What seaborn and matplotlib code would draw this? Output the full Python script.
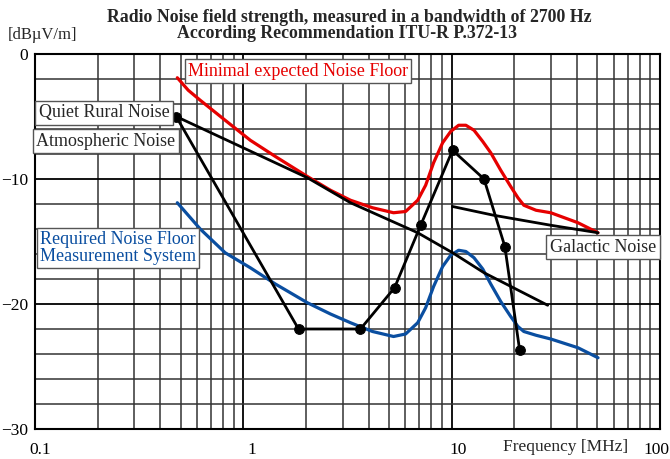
import matplotlib
matplotlib.use("Agg")
import matplotlib.pyplot as plt
import matplotlib.transforms as mtransforms
from matplotlib.ticker import LogLocator, MultipleLocator, FixedLocator, NullFormatter
import seaborn as sns

# Minimal expected noise floor (red)
red_f = [0.482, 0.544, 0.621, 0.818, 1.08, 1.425, 2.03, 2.62, 3.27, 4.17, 5.26, 6.01, 6.87, 7.50,
         8.19, 9.05, 9.89, 10.8, 11.7, 12.8, 14.1, 15.4, 17.2, 19.2, 20.8, 22.2, 25.4, 29.9, 40.4, 50.4]
red_db = [-1.9, -2.9, -3.7, -5.3, -6.9, -8.2, -9.8, -10.9, -11.7, -12.3, -12.7, -12.6, -11.7, -10.5,
          -8.7, -7.1, -6.2, -5.7, -5.7, -6.1, -7.0, -7.9, -9.3, -10.6, -11.5, -12.1, -12.5, -12.7, -13.5, -14.3]

# Required noise floor of the measurement system (blue)
blue_f = [0.482, 0.621, 0.818, 1.08, 1.425, 2.03, 2.62, 3.27, 4.17, 5.26, 6.01, 6.87, 7.50, 8.19, 9.05,
          9.89, 10.8, 11.7, 12.8, 14.1, 15.4, 17.2, 19.2, 20.8, 22.2, 25.4, 29.9, 40.4, 50.4]
blue_db = [-11.9, -14.0, -15.9, -17.1, -18.4, -19.9, -20.8, -21.5, -22.2, -22.6, -22.4, -21.5, -20.3, -18.6, -17.0,
           -16.1, -15.7, -15.8, -16.3, -17.2, -18.4, -19.8, -21.0, -21.8, -22.2, -22.5, -22.8, -23.5, -24.3]

# Atmospheric noise (black, with markers)
atm_f = [0.476, 1.84, 3.65, 5.32, 7.10, 10.1, 14.3, 18.0, 21.2]
atm_db = [-5.0, -22.0, -22.0, -18.7, -13.7, -7.7, -10.0, -15.4, -23.7]

# Quiet rural noise (black)
rural_f = [0.476, 2.03, 3.27, 6.87, 10.1, 14.3, 28.9]
rural_db = [-5.0, -9.9, -11.9, -14.3, -15.9, -17.5, -20.1]

# Galactic noise (black)
gal_f = [10.1, 15.9, 29.9, 50.4]
gal_db = [-12.2, -12.9, -13.7, -14.3]

x_ticks = [0.1, 1, 10, 100]
x_labels = ["0.1", "1", "10", "100"]

RED = "#e60000"
BLUE = "#0a4ea0"

sns.set_style("white")
plt.rcParams["font.family"] = ["Liberation Serif", "DejaVu Serif"]

fig = plt.figure(figsize=(6.7, 4.59), dpi=100)
ax = fig.add_axes([35 / 670, 30 / 459, 625 / 670, 375 / 459])

sns.lineplot(x=blue_f, y=blue_db, ax=ax, color=BLUE, lw=2.3, zorder=3)
sns.lineplot(x=red_f, y=red_db, ax=ax, color=RED, lw=2.3, zorder=3)
sns.lineplot(x=rural_f, y=rural_db, ax=ax, color="black", lw=2.0, zorder=4)
sns.lineplot(x=gal_f, y=gal_db, ax=ax, color="black", lw=2.0, zorder=4)
sns.lineplot(x=atm_f, y=atm_db, ax=ax, color="black", lw=2.0, marker="o",
             markersize=7, markeredgecolor="black", zorder=5)

ax.set_xscale("log")
ax.set_xlim(0.1, 100)
ax.set_ylim(-30, 0)

ax.xaxis.set_major_locator(FixedLocator(x_ticks))
ax.set_xticklabels(x_labels)
ax.xaxis.set_minor_locator(LogLocator(base=10, subs=range(2, 10)))
ax.xaxis.set_minor_formatter(NullFormatter())
ax.yaxis.set_major_locator(MultipleLocator(10))
ax.yaxis.set_minor_locator(MultipleLocator(2))

ax.grid(which="major", color="black", lw=1.3, zorder=0)
ax.grid(which="minor", color="#333333", lw=1.1, zorder=0)
ax.tick_params(which="both", length=0, labelsize=12.5, colors="black", pad=5)
ax.tick_params(axis="x", pad=9)
for s in ax.spines.values():
    s.set_color("black")
    s.set_linewidth(1.5)
ax.set_xlabel("")
ax.set_ylabel("")

# tick labels sit a bit right of their lines in the original, except the last one
shifts = [5, 8, 6, -4]
for lab, dx in zip(ax.get_xticklabels(), shifts):
    lab.set_transform(lab.get_transform() + mtransforms.ScaledTranslation(dx / 100, 0, fig.dpi_scale_trans))

fig.text(349 / 670, 1 - 17 / 459, "Radio Noise field strength, measured in a bandwidth of 2700 Hz",
         ha="center", va="center", fontsize=12.8, fontweight="bold")
fig.text(347 / 670, 1 - 33 / 459, "According Recommendation ITU-R P.372-13",
         ha="center", va="center", fontsize=12.8, fontweight="bold")
fig.text(8 / 670, 1 - 35 / 459, "[dBµV/m]", ha="left", va="center", fontsize=12)
fig.text(566 / 670, 1 - 447 / 459, "Frequency [MHz]", ha="center", va="center", fontsize=12.5)

box = dict(facecolor="white", edgecolor="#555555", lw=1.0, pad=2.5)
fig.text(298 / 670, 1 - 71 / 459, "Minimal expected Noise Floor", ha="center", va="center",
         fontsize=13, color=RED, bbox=box, zorder=10)
fig.text(104 / 670, 1 - 113 / 459, "Quiet Rural Noise", ha="center", va="center",
         fontsize=13, bbox=box, zorder=10)
fig.text(106 / 670, 1 - 141 / 459, "Atmospheric Noise", ha="center", va="center",
         fontsize=13, bbox=box, zorder=10)
fig.text(118 / 670, 1 - 248 / 459, "Required Noise Floor\nMeasurement System", ha="center", va="center",
         fontsize=13, color=BLUE, bbox=box, linespacing=1.0, multialignment="left", zorder=10)
fig.text(603 / 670, 1 - 247 / 459, "Galactic Noise", ha="center", va="center",
         fontsize=13, bbox=box, zorder=10)

fig.savefig("out.png", dpi=100)
